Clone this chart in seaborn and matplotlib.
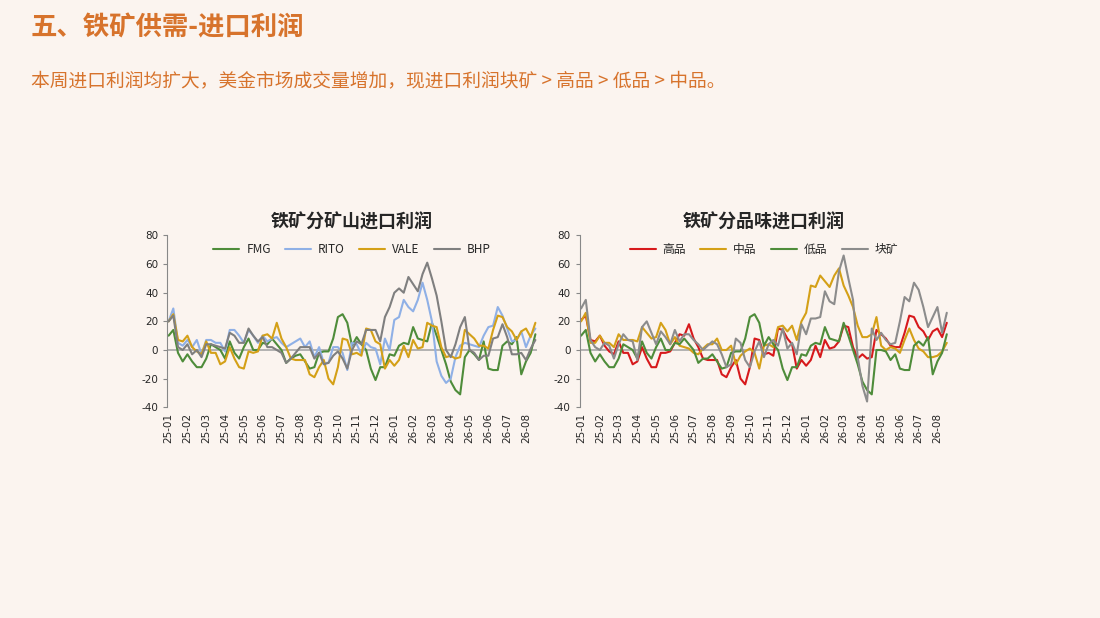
import numpy as np
import pandas as pd
import matplotlib
matplotlib.use("Agg")
import matplotlib.pyplot as plt
import seaborn as sns

sns.set_style("white")
plt.rcParams['font.family'] = ['Noto Sans CJK SC', 'DejaVu Sans']
plt.rcParams['axes.unicode_minus'] = False

months = ["25-01", "25-02", "25-03", "25-04", "25-05", "25-06", "25-07", "25-08", "25-09", "25-10",
          "25-11", "25-12", "26-01", "26-02", "26-03", "26-04", "26-05", "26-06", "26-07", "26-08"]

# weekly values, 4 per month
fmg = [10, 14, -2, -8, -3, -8, -12, -12, -6, 4, 2, 0, -6, 6, -2, -6, 2, 8, 0, 0,
       5, 4, 8, 4, 0, -9, -6, -4, -3, -8, -13, -12, -2, -1, -1, 8, 23, 25, 19, 3,
       9, 4, 0, -13, -21, -12, -12, -3, -4, 3, 5, 4, 16, 8, 7, 6, 19, 10, 0, -10,
       -22, -28, -31, -5, 0, -3, -7, 6, -13, -14, -14, 3, 6, 4, 9, -17, -8, -2, 11]
rito = [20, 29, 5, 3, 7, 2, 7, -3, 7, 7, 5, 5, -1, 14, 14, 10, 5, 14, 10, 5,
        10, 6, 8, 9, 5, 2, 4, 6, 8, 2, 6, -5, 2, -9, -9, 2, 2, -2, -14, 5,
        4, -3, 5, 2, 1, -10, 8, 0, 21, 23, 35, 30, 27, 35, 47, 35, 20, -8, -18, -23,
        -20, -5, 3, 5, 4, 3, 2, 10, 16, 17, 30, 24, 15, 6, 7, 13, 2, 10, 15]
vale = [20, 25, 7, 6, 10, 2, -1, -3, 6, -2, -2, -10, -8, 2, -6, -12, -13, -1, -2, -1,
        10, 11, 8, 19, 8, 2, -6, -7, -7, -7, -17, -19, -12, -7, -20, -24, -12, 8, 7, -3,
        -2, -4, 15, 14, 6, 4, -13, -7, -11, -7, 3, -5, 7, 1, 2, 19, 17, 16, 2, -5,
        -4, -6, -5, 14, 11, 8, 3, 3, 1, 14, 24, 23, 16, 13, 7, 13, 15, 9, 19]
bhp = [20, 24, 2, 0, 4, -3, 0, -5, 4, 4, 3, 2, 1, 12, 10, 5, 5, 15, 10, 6,
       9, 2, 2, 0, -2, -9, -6, -2, 2, 2, 2, -6, -2, -10, -9, -4, -1, -6, -13, 0,
       6, 4, 14, 14, 14, 6, 23, 30, 40, 43, 40, 51, 46, 41, 53, 61, 50, 38, 20, 0,
       -5, 4, 16, 23, 0, -2, -7, -4, -4, 8, 9, 18, 9, -3, -3, -2, -7, 1, 7]

high = [21, 24, 7, 6, 10, 3, -1, -3, 6, -2, -2, -10, -8, 2, -6, -12, -12, -2, -2, -1,
        5, 11, 10, 18, 8, 2, -6, -7, -7, -7, -17, -19, -12, -7, -20, -24, -12, 8, 7, -3,
        -2, -4, 15, 14, 8, 4, -13, -7, -11, -7, 3, -5, 7, 1, 2, 6, 17, 16, 2, -6,
        -3, -6, -5, 14, 11, 8, 3, 2, 2, 12, 24, 23, 16, 13, 7, 13, 15, 9, 19]
mid = [20, 26, 5, 5, 10, 5, 5, 2, 11, 7, 7, 7, 6, 16, 12, 8, 9, 19, 14, 4,
       9, 3, 2, 1, -2, -3, 1, 4, 4, 8, 0, 0, 3, -10, -4, -1, 1, -2, -13, 3,
       4, 2, 16, 17, 13, 17, 7, 20, 26, 45, 44, 52, 48, 44, 52, 57, 45, 38, 30, 17,
       9, 9, 11, 23, 3, 0, 2, 1, -2, 7, 15, 7, 1, -1, -5, -5, -4, -1, 5]
low = [10, 14, -2, -8, -3, -8, -12, -12, -6, 4, 2, 0, -6, 6, -2, -6, 2, 8, 0, 0,
       5, 4, 8, 4, 0, -9, -6, -6, -3, -8, -13, -12, -2, -1, -1, 8, 23, 25, 19, 3,
       9, 4, 0, -13, -21, -12, -12, -3, -4, 3, 5, 4, 16, 8, 7, 6, 19, 10, 0, -10,
       -22, -28, -31, 0, 0, -1, -7, -3, -13, -14, -14, 3, 6, 3, 9, -17, -8, -2, 11]
lump = [29, 35, 7, 2, 0, 5, 3, -6, 4, 11, 7, 6, -7, 16, 20, 12, 4, 13, 9, 4,
        14, 6, 11, 11, 7, 4, 0, 3, 6, 4, -3, -12, -10, 8, 5, -7, -12, -1, 6, -5,
        4, 7, 3, 15, 1, 5, -3, 18, 11, 22, 22, 23, 41, 34, 32, 55, 66, 50, 35, -5,
        -25, -36, 15, 7, 12, 7, 4, 5, 20, 37, 34, 47, 42, 30, 16, 23, 30, 12, 26]

bg = "#FBF4EF"
orange = "#D7732C"

fig = plt.figure(figsize=(11, 6.18), dpi=100, facecolor=bg)
fig.text(0.028, 0.955, "五、铁矿供需-进口利润", fontsize=19, fontweight="bold",
         color=orange, va="center")
fig.text(0.028, 0.87, "本周进口利润均扩大，美金市场成交量增加，现进口利润块矿 > 高品 > 低品 > 中品。",
         fontsize=13.5, color=orange, va="center")


def draw(ax, series, names, colors, title):
    rows = []
    for name, vals in zip(names, series):
        for i, v in enumerate(vals):
            rows.append({"week": i, "value": v, "name": name})
    df = pd.DataFrame(rows)
    ax.set_facecolor(bg)
    sns.lineplot(data=df, x="week", y="value", hue="name", palette=dict(zip(names, colors)),
                 linewidth=1.5, ax=ax)
    ax.axhline(0, color="#A6A6A6", linewidth=1.2, zorder=0)
    ax.set_ylim(-40, 80)
    ax.set_yticks(range(-40, 81, 20))
    ax.set_xlim(-0.3, len(series[0]) - 0.7)
    ax.set_xticks(range(0, 80, 4))
    ax.set_xticklabels(months, rotation=90, fontsize=7.5, family="DejaVu Sans")
    for lab in ax.get_yticklabels():
        lab.set_family("DejaVu Sans")
    ax.tick_params(axis="y", labelsize=7.5, length=3, color="#888888", direction="out", left=True)
    ax.tick_params(axis="x", length=0, pad=4)
    for s in ["top", "right", "bottom"]:
        ax.spines[s].set_visible(False)
    ax.spines["left"].set_color("#888888")
    ax.set_xlabel("")
    ax.set_ylabel("")
    ax.set_title(title, fontsize=13, fontweight="bold", pad=6)
    ax.legend(loc="upper center", bbox_to_anchor=(0.5, 1.02), ncol=4, frameon=False,
              fontsize=8.5, handlelength=2.2, columnspacing=1.2, handletextpad=0.6)


ax1 = fig.add_axes([0.152, 0.341, 0.336, 0.278])
draw(ax1, [fmg, rito, vale, bhp], ["FMG", "RITO", "VALE", "BHP"],
     ["#4E8C3A", "#8FB0E6", "#D4A017", "#7F7F7F"], "铁矿分矿山进口利润")
ax2 = fig.add_axes([0.527, 0.341, 0.335, 0.278])
draw(ax2, [high, mid, low, lump], ["高品", "中品", "低品", "块矿"],
     ["#D7191C", "#D4A017", "#4E8C3A", "#8C8C8C"], "铁矿分品味进口利润")

fig.savefig("out.png", dpi=100, facecolor=bg)
